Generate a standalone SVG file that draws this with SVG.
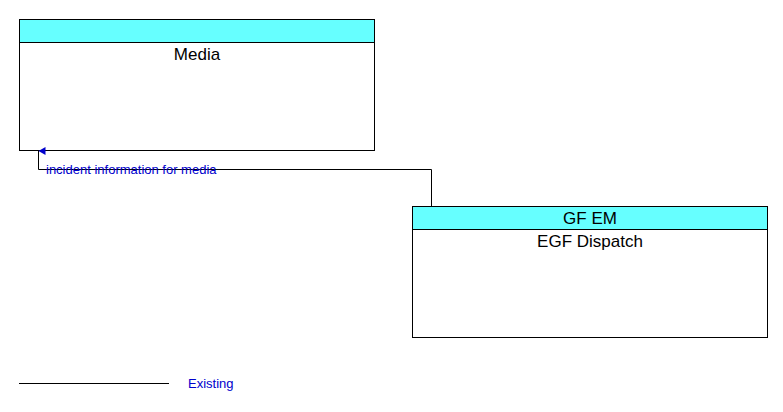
<svg xmlns="http://www.w3.org/2000/svg" width="783" height="412" viewBox="0 0 783 412">
<style>
.box{fill:#fff;stroke:#000;stroke-width:1}
.hdr{fill:#66ffff;stroke:#000;stroke-width:1}
.t{font-family:"Liberation Sans",Arial,sans-serif;font-size:17px;text-anchor:middle;fill:#000}
.lbl{font-family:"Liberation Sans",Arial,sans-serif;font-size:13px;fill:#0000cc}
.ln{fill:none;stroke:#000;stroke-width:1}
</style>
<defs><marker id="a" markerWidth="10" markerHeight="10" refX="5" refY="1" orient="auto-start-reverse" markerUnits="userSpaceOnUse"><path d="M1,8 L5,1 L9,8 Z" fill="#0000cc"/></marker></defs>
<rect width="783" height="412" fill="#fff"/>
<g id="media">
<rect class="box" x="19.5" y="19.5" width="355" height="131"/>
<rect class="hdr" x="19.5" y="19.5" width="355" height="23"/>
<text class="t" x="197" y="60">Media</text>
</g>
<g id="egf">
<rect class="box" x="412.5" y="206.5" width="355" height="131"/>
<rect class="hdr" x="412.5" y="206.5" width="355" height="23"/>
<text class="t" x="590" y="224">GF EM</text>
<text class="t" x="590" y="247">EGF Dispatch</text>
</g>
<g id="connectors">
<path class="ln" d="M431.5,206 V169.5 H38.5 V151" marker-end="url(#a)"/>
<text class="lbl" x="46" y="174">incident information for media</text>
</g>
<g id="legend">
<line class="ln" x1="19" y1="383.5" x2="169" y2="383.5"/>
<text class="lbl" x="188" y="388">Existing</text>
</g>
</svg>
